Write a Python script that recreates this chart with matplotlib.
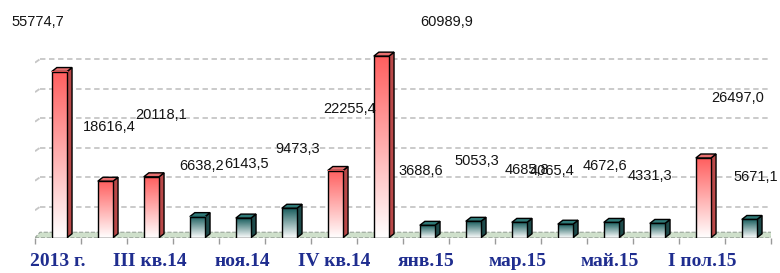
import matplotlib.pyplot as plt
import numpy as np
from matplotlib.colors import LinearSegmentedColormap
from matplotlib.patches import Polygon, Rectangle

categories = ["2013 г.", "I пол.14", "III кв.14", "окт.14", "ноя.14", "дек.14",
              "IV кв.14", "2014 г.", "янв.15", "фев.15", "мар.15", "апр.15",
              "май.15", "июн.15", "I пол.15", "июл.15"]
values = [55774.7, 18616.4, 20118.1, 6638.2, 6143.5, 9473.3,
          22255.4, 60989.9, 3688.6, 5053.3, 4685.8, 4065.4,
          4672.6, 4331.3, 26497.0, 5671.1]
is_period = [True, True, True, False, False, False,
             True, True, False, False, False, False,
             False, False, True, False]

# where the value labels sit (they float, as in the original)
label_dx = [-0.43, 0.11, 0.24, 0.13, 0.09, 0.22, 0.33, 1.46,
            -0.11, 0.11, 0.2, -0.26, -0.11, -0.13, 0.78, 0.17]
label_y = [72400, 37000, 41100, 23900, 24600, 29600, 43100, 72700,
           22200, 25600, 22300, 22200, 23900, 20500, 46800, 20200]

RED_TOP = "#ff5f5f"
RED_SIDE = "#b94848"
RED_CAP = "#e87070"
TEAL_TOP = "#175c5c"
TEAL_SIDE = "#1d4a4a"
TEAL_CAP = "#2f7a78"
GRID = "#c6c6c6"
FLOOR = "#cfe0cb"
TICK_INK = "#1f2d8f"
LABEL_INK = "#141414"

DX = 0.11      # depth offset, category units
DY = 1350      # depth offset, value units
HALF = 0.165   # half width of the front face
SHIFT = 0.03

fig = plt.figure(figsize=(7.8, 2.73), dpi=100)
ax = fig.add_axes([35 / 780, 35 / 273, 736 / 780, 238 / 273])
n = len(categories)
for spine in ax.spines.values():
    spine.set_visible(False)

# back wall gridlines with a slanted start
for v in range(10000, 70000, 10000):
    ax.plot([-0.5, -0.5 + DX], [v - DY * 0.9, v], color=GRID, lw=1.3, ls=(0, (3, 2)), zorder=1)
    ax.plot([-0.5 + DX, n - 0.5], [v, v], color=GRID, lw=1.3, ls=(0, (3, 2)), zorder=1)

# floor
floor = Polygon([(-0.5, -500), (n - 0.5, -500), (n - 0.5 + DX * 0.3, DY), (-0.5 + DX, DY)],
                closed=True, facecolor=FLOOR, edgecolor="#9aa59a", lw=0.8, ls="--", zorder=2)
ax.add_patch(floor)

red_cmap = LinearSegmentedColormap.from_list("r", ["#ffffff", RED_TOP])
teal_cmap = LinearSegmentedColormap.from_list("t", ["#ffffff", TEAL_TOP])
grad = np.linspace(0, 1, 256).reshape(-1, 1)

for i, (v, p) in enumerate(zip(values, is_period)):
    x0, x1 = i + SHIFT - HALF, i + SHIFT + HALF
    cmap = red_cmap if p else teal_cmap
    side_c = RED_SIDE if p else TEAL_SIDE
    cap_c = RED_CAP if p else TEAL_CAP
    side = Polygon([(x1, -500), (x1 + DX, DY - 500), (x1 + DX, v + DY), (x1, v)],
                   closed=True, facecolor=side_c, edgecolor="black", lw=1.0, zorder=3)
    ax.add_patch(side)
    cap = Polygon([(x0, v), (x0 + DX, v + DY), (x1 + DX, v + DY), (x1, v)],
                  closed=True, facecolor=cap_c, edgecolor="black", lw=1.0, zorder=3)
    ax.add_patch(cap)
    ax.imshow(grad, extent=[x0, x1, -500, v], origin="lower", cmap=cmap,
              aspect="auto", interpolation="bilinear", zorder=4)
    ax.add_patch(Rectangle((x0, -500), x1 - x0, v + 500, fill=False,
                           edgecolor="black", lw=1.0, zorder=5))

for i, v in enumerate(values):
    txt = f"{v:.1f}".replace(".", ",")
    ax.text(i + label_dx[i], label_y[i], txt, ha="center", va="center",
            fontsize=10.5, family="Liberation Sans", color=LABEL_INK, zorder=6)

ax.set_xlim(-0.5, n - 0.5)
ax.set_ylim(-600, 80000)
ax.set_yticks([])
ax.set_xticks(range(0, n, 2))
ax.set_xticklabels(categories[::2], fontsize=14, fontweight="bold",
                   family="Liberation Serif", color=TICK_INK)
ax.set_xticks(np.arange(-0.5, n, 1), minor=True)
ax.tick_params(axis="x", which="major", length=0, pad=11)
ax.tick_params(axis="x", which="minor", length=4, color="#9a9a9a", width=1)

fig.savefig("out.png", dpi=100)
